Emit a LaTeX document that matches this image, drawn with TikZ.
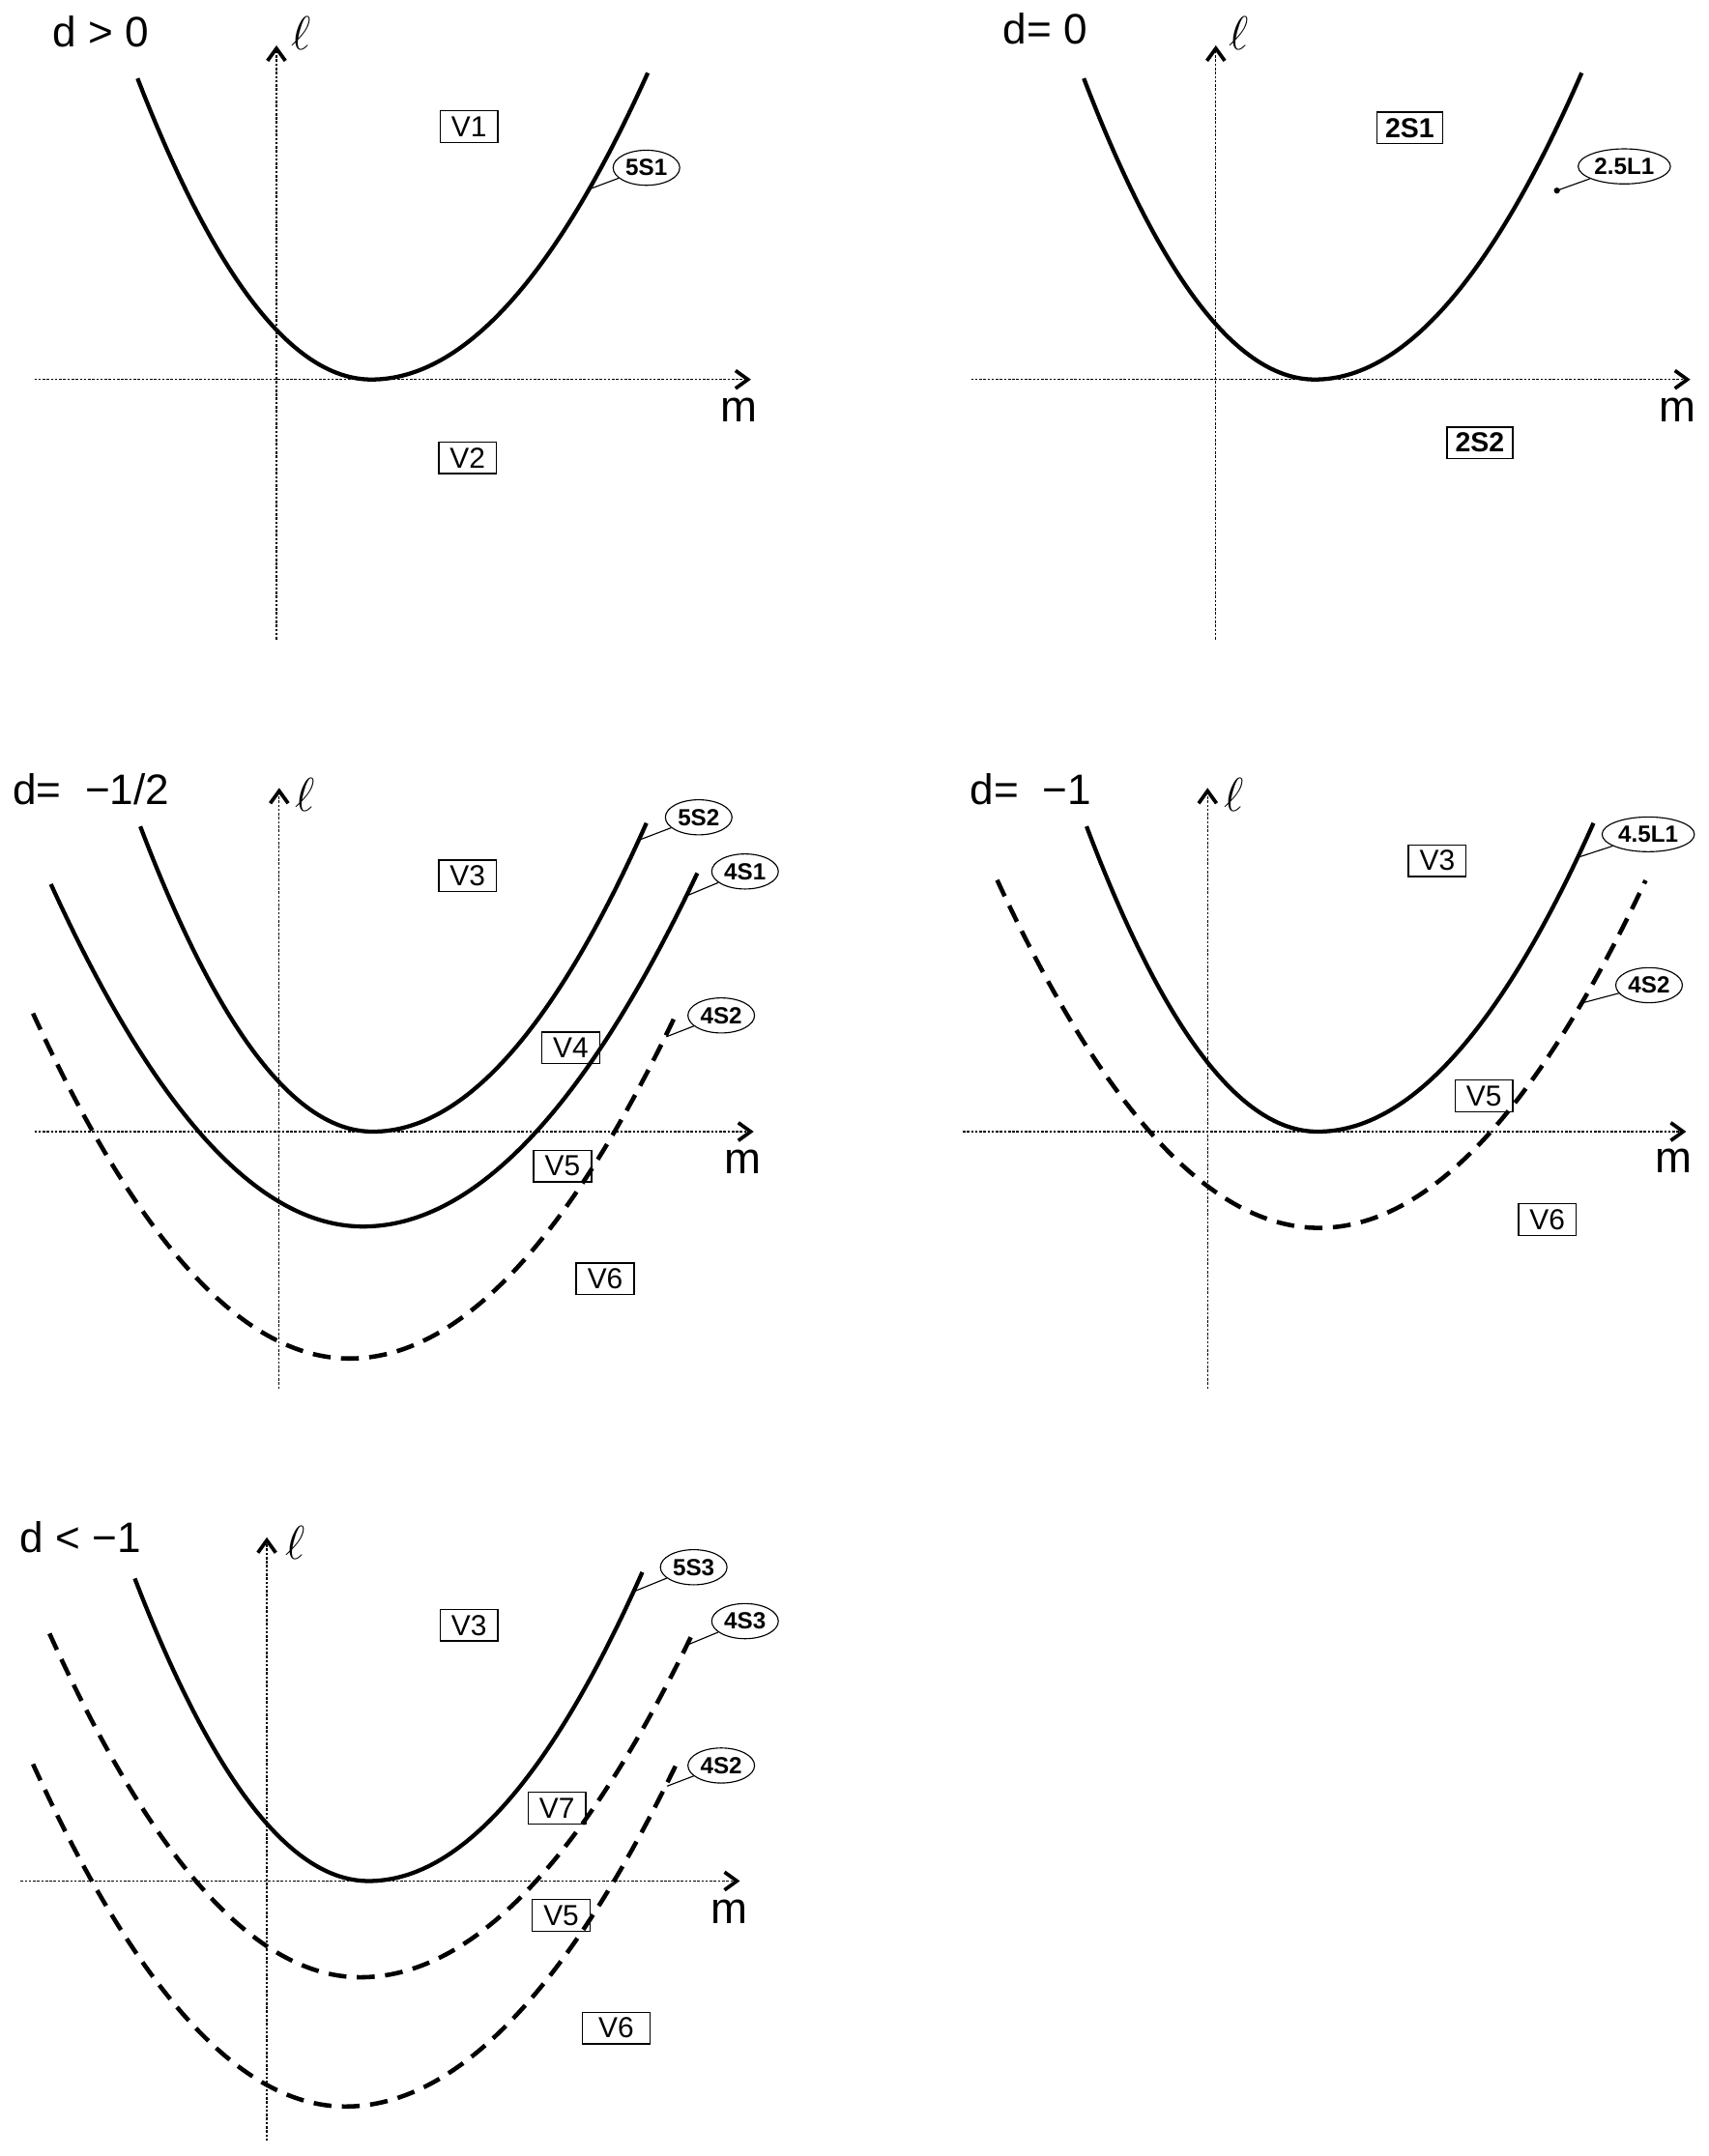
\documentclass[tikz,border=0pt]{standalone}
\usepackage{fontspec}
\setmainfont{Liberation Sans}
\usetikzlibrary{arrows.meta,shapes.geometric}
% #1 style, #2 vx, #3 vy, #4 lx, #5 ly, #6 rx, #7 ry
\newcommand\parcurve[7]{%
  \draw[#1] (#4,#5) .. controls ({#4+(#2-#4)/3},{(#5+2*#3)/3}) and ({#2+(#4-#2)/3},#3) .. (#2,#3)
    .. controls ({#2+(#6-#2)/3},#3) and ({#6-(#6-#2)/3},{(#7+2*#3)/3}) .. (#6,#7);}
\begin{document}
\begin{tikzpicture}[x=0.5pt,y=-0.5pt,
  axis/.style={line width=0.45pt, dash pattern=on 0.9pt off 0.6pt, -{Straight Barb[length=4.5pt,width=6.5pt,line width=1.3pt]}},
  curve/.style={line width=1.5pt},
  dcurve/.style={line width=1.6pt, dash pattern=on 6.5pt off 3.8pt},
  vbox/.style={draw, line width=0.5pt, font=\fontsize{10.5}{11}\selectfont, minimum width=21pt, minimum height=11.5pt, inner sep=1pt},
  sbox/.style={vbox, font=\fontsize{10}{11}\selectfont\bfseries, minimum width=24pt, minimum height=11.5pt},
  tag/.style={draw, ellipse, line width=0.4pt, font=\fontsize{8.5}{9}\selectfont\bfseries, inner xsep=1pt, inner ysep=1.5pt},
  ttl/.style={anchor=west, inner sep=0pt, font=\fontsize{15.5}{16}\selectfont},
  lab/.style={inner sep=0pt, font=\fontsize{16}{17}\selectfont},
  leader/.style={line width=0.4pt}]
\useasboundingbox (0,0) rectangle (1242,1568);

% ---------- panel 1: d > 0
\node[ttl] (t1) at (38,23) {d > 0};
\node[lab] (l1) at (219,24) {$\ell$};
\draw[axis] (201,465) -- (201,33);
\draw[axis] (25,276) -- (546,276);
\node[lab] (m1) at (537,298) {m};
\parcurve{curve}{270}{276}{100}{57}{471}{53}
\node[vbox] (p1v1) at (341,92) {V1};
\node[vbox] (p1v2) at (340,333) {V2};
\node[tag] (p1s1) at (470,122) {5S1};
\coordinate (c1) at (430,137);
\draw[leader] (c1) -- (p1s1);

% ---------- panel 2: d = 0
\node[ttl] (t2) at (729,21) {d= 0};
\node[lab] (l2) at (901,24) {$\ell$};
\draw[axis] (884,465) -- (884,33);
\draw[axis] (706,276) -- (1229,276);
\node[lab] (m2) at (1220,298) {m};
\parcurve{curve}{956}{276}{788}{57}{1150}{53}
\node[sbox] (p2s1) at (1025,93) {2S1};
\node[sbox] (p2s2) at (1076,322) {2S2};
\node[tag] (p2l1) at (1181,121) {2.5L1};
\coordinate (c2) at (1132,138.6);
\fill (c2) circle[radius=1.1pt];
\draw[leader] (c2) -- (p2l1);

% ---------- panel 3: d = -1/2
\node[ttl] (t3) at (9,574) {d=~~−1/2};
\node[lab] (l3) at (222,578) {$\ell$};
\draw[axis] (203,1010) -- (203,573);
\draw[axis] (25,823) -- (548,823);
\node[lab] (m3) at (540,845) {m};
\parcurve{curve}{271}{823}{102}{601}{470}{598.6}
\parcurve{curve}{264}{892}{37}{643}{507}{635}
\parcurve{dcurve}{254}{988}{24}{737}{493}{734.5}
\node[vbox] (p3v3) at (340,637) {V3};
\node[vbox] (p3v4) at (415,762) {V4};
\node[vbox] (p3v5) at (409,848) {V5};
\node[vbox] (p3v6) at (440,930) {V6};
\node[tag] (p3a) at (508,594.4) {5S2};
\node[tag] (p3b) at (541.7,633.8) {4S1};
\node[tag] (p3c) at (524.4,738.5) {4S2};
\coordinate (c3a) at (465,610.8);
\coordinate (c3b) at (499.5,651.4);
\coordinate (c3c) at (484.5,754);
\draw[leader] (c3a) -- (p3a);
\draw[leader] (c3b) -- (p3b);
\draw[leader] (c3c) -- (p3c);

% ---------- panel 4: d = -1
\node[ttl] (t4) at (705,574) {d=~~−1};
\node[lab] (l4) at (897,578) {$\ell$};
\draw[axis] (878,1010) -- (878,573);
\draw[axis] (700,823) -- (1226,823);
\node[lab] (m4) at (1217,844) {m};
\parcurve{curve}{958}{823}{790}{601}{1158.6}{598.6}
\parcurve{dcurve}{959}{893}{725}{640}{1196.5}{640.3}
\node[vbox] (p4v3) at (1045,626) {V3};
\node[vbox] (p4v5) at (1079,797) {V5};
\node[vbox] (p4v6) at (1125,887) {V6};
\node[tag] (p4a) at (1198.4,606.8) {4.5L1};
\node[tag] (p4b) at (1199,716.5) {4S2};
\coordinate (c4a) at (1149,623);
\coordinate (c4b) at (1152,729);
\draw[leader] (c4a) -- (p4a);
\draw[leader] (c4b) -- (p4b);

% ---------- panel 5: d < -1
\node[ttl] (t5) at (14,1118) {d < −1};
\node[lab] (l5) at (215,1122) {$\ell$};
\draw[axis] (194,1557) -- (194,1118);
\draw[axis] (15,1368) -- (538,1368);
\node[lab] (m5) at (530,1390) {m};
\parcurve{curve}{268}{1368}{98}{1148}{467}{1143.4}
\parcurve{dcurve}{262}{1438}{36}{1188}{505}{1185}
\parcurve{dcurve}{251}{1532}{24}{1283}{493}{1280.5}
\node[vbox] (p5v3) at (341,1182) {V3};
\node[vbox] (p5v7) at (405,1315) {V7};
\node[vbox] (p5v5) at (408,1393) {V5};
\node[vbox, minimum width=24.5pt] (p5v6) at (448,1475) {V6\hspace{3.5pt}};
\node[tag] (p5a) at (504.4,1139.8) {5S3};
\node[tag] (p5b) at (541.7,1179) {4S3};
\node[tag] (p5c) at (524.4,1284) {4S2};
\coordinate (c5a) at (462,1157);
\coordinate (c5b) at (500.5,1196);
\coordinate (c5c) at (485,1299);
\draw[leader] (c5a) -- (p5a);
\draw[leader] (c5b) -- (p5b);
\draw[leader] (c5c) -- (p5c);
\end{tikzpicture}
\end{document}
